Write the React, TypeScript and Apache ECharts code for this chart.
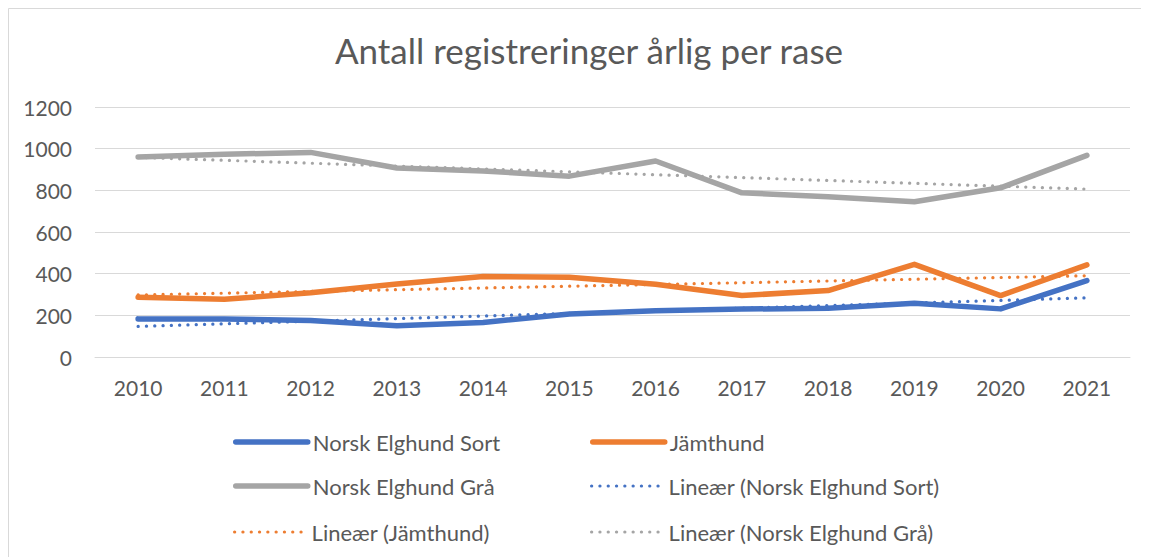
import React, { useEffect, useRef } from "react";
import * as echarts from "echarts";

const years = ["2010", "2011", "2012", "2013", "2014", "2015", "2016", "2017", "2018", "2019", "2020", "2021"];
const sortValues = [183, 182, 175, 150, 166, 206, 222, 230, 234, 258, 231, 367];
const jamtValues = [287, 277, 308, 350, 386, 383, 349, 295, 319, 445, 295, 442];
const graValues = [960, 973, 982, 907, 893, 868, 941, 788, 769, 745, 812, 968];
const sortTrend = [147, null, null, null, null, null, null, null, null, null, null, 284];
const jamtTrend = [298, null, null, null, null, null, null, null, null, null, null, 390];
const graTrend = [958, null, null, null, null, null, null, null, null, null, null, 806];
const yTicks = [0, 200, 400, 600, 800, 1000, 1200];

const names = [
  "Norsk Elghund Sort",
  "Jämthund",
  "Norsk Elghund Grå",
  "Lineær (Norsk Elghund Sort)",
  "Lineær (Jämthund)",
  "Lineær (Norsk Elghund Grå)",
];

const BLUE = "#4472C4";
const ORANGE = "#ED7D31";
const GRAY = "#A5A5A5";
const TEXT = "#595959";
const FONT = "Lato, 'Open Sans', sans-serif";

export default function App() {
  const ref = useRef<HTMLDivElement>(null);
  useEffect(() => {
    if (!ref.current) return;
    const chart = echarts.init(ref.current, undefined, { renderer: "svg" });
    const solidStyle = { width: 5.5, cap: "round", join: "round" };
    const dottedStyle = { width: 3.2, type: [0.1, 8.2], cap: "round" };
    const solid = (name: string, data: number[], color: string) => ({
      name,
      type: "line",
      data,
      symbol: "none",
      showSymbol: false,
      itemStyle: { color },
      lineStyle: { color, ...solidStyle },
      z: 2,
    });
    const dotted = (name: string, data: (number | null)[], color: string) => ({
      name,
      type: "line",
      data,
      connectNulls: true,
      symbol: "none",
      showSymbol: false,
      itemStyle: { color },
      lineStyle: { color, ...dottedStyle },
      z: 3,
    });
    const legendPos = [
      [225, 434],
      [582, 434],
      [225, 478],
      [582, 478],
      [225, 524],
      [582, 524],
    ];
    chart.setOption({
      animation: false,
      textStyle: { fontFamily: FONT },
      title: {
        text: "Antall registreringer årlig per rase",
        left: 576,
        textAlign: "center",
        top: 16,
        textStyle: { fontFamily: FONT, fontSize: 35, fontWeight: "normal", color: TEXT, lineHeight: 42 },
      },
      graphic: [
        {
          type: "rect",
          shape: { x: 0.5, y: 0.5, width: 1300, height: 700 },
          style: { fill: "none", stroke: "#D9D9D9", lineWidth: 1 },
          silent: true,
        },
      ],
      legend: names.map((n, i) => ({
        data: [n],
        left: legendPos[i][0],
        top: legendPos[i][1] - 12,
        padding: 0,
        itemWidth: 72,
        itemHeight: 14,
        selectedMode: false,
        itemStyle: { opacity: 0 },
        lineStyle: i < 3 ? { ...solidStyle } : { ...dottedStyle },
        textStyle: { fontFamily: FONT, fontSize: 22, color: TEXT, lineHeight: 24 },
      })),
      grid: { left: 87, right: 19, top: 99, bottom: 200, containLabel: false },
      xAxis: {
        type: "category",
        data: years,
        boundaryGap: true,
        axisLine: { show: true, lineStyle: { color: "#D9D9D9", width: 1 } },
        axisTick: { show: false },
        axisLabel: { color: TEXT, fontFamily: FONT, fontSize: 21, margin: 20 },
      },
      yAxis: {
        type: "value",
        min: yTicks[0],
        max: yTicks[yTicks.length - 1],
        interval: 200,
        axisLine: { show: false },
        axisTick: { show: false },
        splitLine: { lineStyle: { color: "#D9D9D9", width: 1 } },
        axisLabel: { color: TEXT, fontFamily: FONT, fontSize: 21, margin: 23, formatter: (v: number) => String(v) },
      },
      series: [
        solid(names[0], sortValues, BLUE),
        solid(names[1], jamtValues, ORANGE),
        solid(names[2], graValues, GRAY),
        dotted(names[3], sortTrend, BLUE),
        dotted(names[4], jamtTrend, ORANGE),
        dotted(names[5], graTrend, GRAY),
      ],
    });
    return () => chart.dispose();
  }, []);
  return <div ref={ref} style={{ width: 1141, height: 549 }} />;
}
